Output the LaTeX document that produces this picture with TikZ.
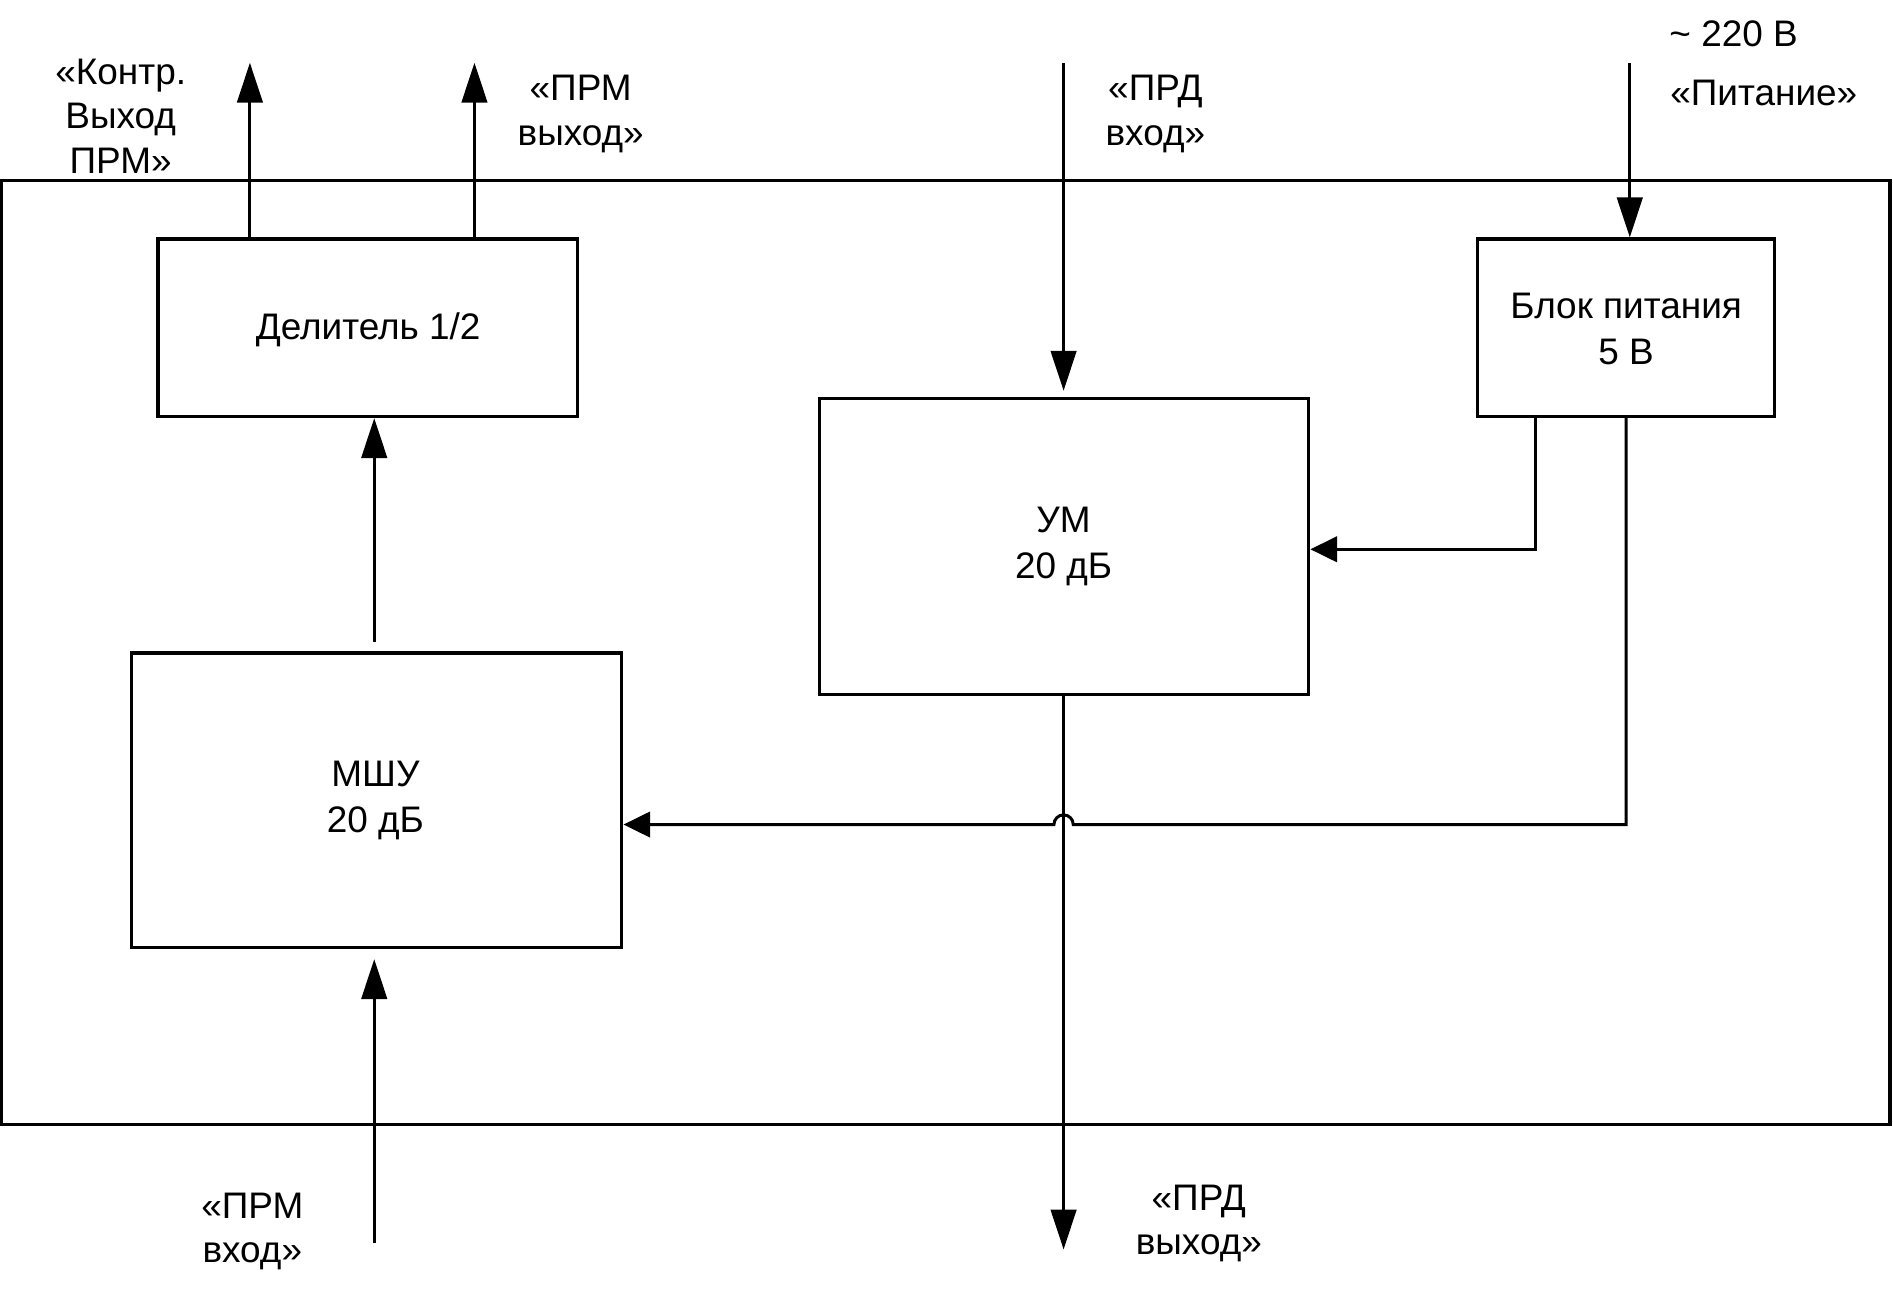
\documentclass[tikz,border=0pt]{standalone}
\usepackage{fontspec}
\setmainfont{Liberation Sans}
\usetikzlibrary{arrows.meta,calc}
\begin{document}
\begin{tikzpicture}[x=0.01cm,y=-0.01cm,
  blk/.style={draw,line width=0.75pt,rectangle,inner sep=0pt,align=center,font=\fontsize{8.7}{10.8}\selectfont},
  txt/.style={inner sep=0pt,align=center,font=\fontsize{8.7}{10.8}\selectfont},
  lbl/.style={inner sep=0pt,align=center,font=\fontsize{8.7}{10.5}\selectfont},
  wire/.style={line width=0.7pt},
  varrow/.style={wire,-{Triangle[length=9.4pt,width=6pt]}},
  harrow/.style={wire,-{Triangle[length=6.3pt,width=6pt]}}]
\useasboundingbox (0,0) rectangle (1568,1071);
% boxes
\node[blk,minimum width=15.63cm,minimum height=7.81cm] (outer) at (783.5,540.5) {};
\node[blk,minimum width=3.47cm,minimum height=1.47cm] (del) at (304.5,271.5) {};
\node[blk,minimum width=4.06cm,minimum height=2.44cm] (mshu) at (312,663) {};
\node[blk,minimum width=4.05cm,minimum height=2.45cm] (um) at (881.5,452.5) {};
\node[blk,minimum width=2.46cm,minimum height=1.47cm] (bp) at (1347,271.5) {};
\node[txt] (tdel) at (305,273.5) {Делитель 1/2};
\node[txt] (tmshu) at (311,663) {МШУ\\20 дБ};
\node[txt] (tum) at (881,453) {УМ\\20 дБ};
\node[txt] (tbp) at (1347,272.5) {Блок питания\\5 В};
% free ends
\coordinate (k1) at (207,52);
\coordinate (k2) at (393,52);
\coordinate (mid) at (310,500);
\coordinate (pin) at (310,1030);
\coordinate (tin) at (881,52);
\coordinate (tout) at (881,1035);
\coordinate (pw) at (1350,52);
\coordinate (c1) at (1272,455);
\coordinate (c2) at (1347,683);
\coordinate (jr) at (889,683);
% connectors
\draw[varrow] (del.north -| k1) -- (k1);
\draw[varrow] (del.north -| k2) -- (k2);
\draw[varrow,shorten <=2.3pt] (mshu.north -| mid) -- (del.south -| mid);
\draw[varrow,shorten >=2.3pt] (pin) -- (mshu.south -| pin);
\draw[varrow,shorten >=1.4pt] (tin) -- (um.north -| tin);
\draw[varrow] (um.south -| tout) -- (tout);
\draw[varrow] (pw) -- (bp.north -| pw);
\draw[harrow] (bp.south -| c1) -- (c1) -- (um.east |- c1);
\draw[harrow] (bp.south -| c2) -- (c2) -- (jr) arc[start angle=0,end angle=180,radius=0.08cm] -- (mshu.east |- c2);
% labels
\node[lbl] (lk) at (100,96) {«Контр.\\Выход\\ПРМ»};
\node[lbl] (lpo) at (481,94.5) {«ПРМ\\выход»};
\node[lbl] (lti) at (957,94.5) {«ПРД\\вход»};
\node[lbl] (l220) at (1436,28) {\textasciitilde{} 220 В};
\node[lbl] (lpit) at (1461,77) {«Питание»};
\node[lbl] (lpi) at (209,1020) {«ПРМ\\вход»};
\node[lbl] (ltout) at (993,1013.5) {«ПРД\\выход»};
\end{tikzpicture}
\end{document}
